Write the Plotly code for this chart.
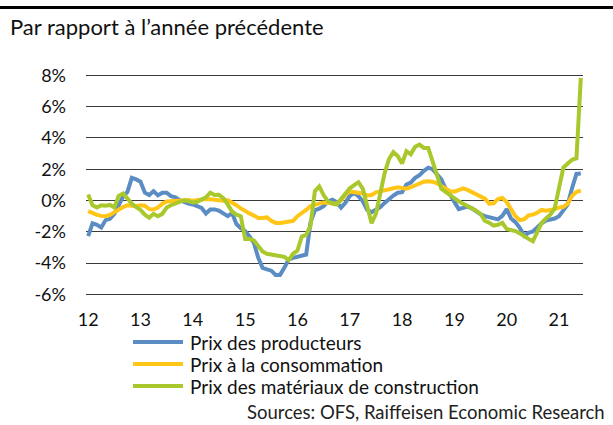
import plotly.graph_objects as go

# ---------------- data ----------------
year_labels = ["12", "13", "14", "15", "16", "17", "18", "19", "20", "21"]
months = [f"{m:02d}.{2012 + y}" for y in range(10) for m in range(1, 13)][:114]

series_names = ["Prix des producteurs", "Prix à la consommation",
                "Prix des matériaux de construction"]

producteurs = [
    -2.28, -1.45, -1.55, -1.72, -1.25, -1.17, -0.85, -0.25, 0.25, 0.55,
    1.45, 1.35, 1.20, 0.50, 0.35, 0.60, 0.33, 0.50, 0.50, 0.28,
    0.20, 0.02, -0.12, -0.20, -0.25, -0.38, -0.47, -0.83, -0.57, -0.57,
    -0.65, -0.82, -1.00, -0.80, -1.50, -1.77, -1.95, -2.30, -2.70, -3.65,
    -4.30, -4.40, -4.48, -4.75, -4.75, -4.30, -3.75, -3.66, -3.60, -3.50,
    -3.45, -1.40, -0.62, -0.52, -0.36, -0.06, 0.05, -0.10, -0.45, -0.15,
    0.30, 0.47, 0.28, -0.05, -0.60, -0.74, -0.60, -0.42, -0.15, 0.10,
    0.32, 0.50, 0.53, 1.02, 1.15, 1.45, 1.62, 1.90, 2.10, 2.00,
    1.66, 1.36, 0.75, 0.38, -0.10, -0.55, -0.47, -0.38, -0.50, -0.70,
    -0.88, -1.00, -1.08, -1.17, -1.20, -0.98, -0.55, -1.15, -1.38, -1.74,
    -2.25, -2.06, -1.98, -1.72, -1.45, -1.28, -1.20, -1.15, -1.00, -0.60,
    -0.25, 0.80, 1.70, 1.72,
]

consommation = [
    -0.68, -0.83, -0.92, -0.98, -1.00, -0.92, -0.75, -0.55, -0.42, -0.30,
    -0.33, -0.36, -0.30, -0.33, -0.55, -0.57, -0.45, -0.20, -0.06, -0.04,
    -0.04, 0.00, 0.06, 0.04, -0.02, 0.04, 0.06, 0.10, 0.08, 0.06,
    0.03, -0.02, 0.03, -0.10, -0.30, -0.50, -0.68, -0.82, -0.95, -1.12,
    -1.12, -1.08, -1.30, -1.43, -1.43, -1.38, -1.37, -1.30, -1.00, -0.81,
    -0.60, -0.35, -0.30, -0.20, -0.12, -0.14, -0.18, -0.20, 0.00, 0.35,
    0.58, 0.55, 0.50, 0.45, 0.33, 0.35, 0.52, 0.60, 0.65, 0.70,
    0.78, 0.84, 0.78, 0.76, 0.85, 0.95, 1.10, 1.20, 1.23, 1.20,
    1.10, 0.92, 0.75, 0.60, 0.57, 0.70, 0.78, 0.68, 0.55, 0.40,
    0.30, 0.12, -0.20, -0.18, 0.10, 0.17, -0.10, -0.60, -1.00, -1.25,
    -1.20, -0.95, -0.90, -0.78, -0.60, -0.65, -0.62, -0.55, -0.45, -0.40,
    -0.20, 0.30, 0.55, 0.64,
]

materiaux = [
    0.38, -0.30, -0.45, -0.30, -0.33, -0.28, -0.45, 0.30, 0.45, 0.10,
    -0.20, -0.42, -0.60, -0.90, -1.10, -0.85, -1.00, -0.85, -0.45, -0.30,
    -0.17, -0.08, 0.02, -0.04, -0.12, -0.08, 0.04, 0.20, 0.50, 0.35,
    0.36, 0.15, -0.25, -0.70, -0.90, -1.00, -2.45, -2.45, -2.55, -2.90,
    -3.25, -3.40, -3.45, -3.50, -3.51, -3.60, -3.80, -3.40, -3.20, -2.30,
    -2.20, -1.60, 0.60, 0.90, 0.35, -0.05, -0.20, -0.26, 0.10, 0.40,
    0.78, 0.98, 1.17, 0.75, -0.45, -1.45, -0.85, 0.55, 1.75, 2.65,
    3.10, 2.85, 2.36, 3.15, 2.95, 3.43, 3.57, 3.36, 3.36, 2.50,
    1.55, 0.75, 0.55, 0.35, 0.12, -0.05, -0.20, -0.35, -0.47, -0.65,
    -0.85, -1.30, -1.42, -1.60, -1.55, -1.42, -1.82, -1.87, -1.95, -2.10,
    -2.30, -2.45, -2.60, -1.95, -1.45, -1.15, -0.90, -0.50, 0.80, 2.10,
    2.36, 2.60, 2.70, 7.83,
]

y_ticks = [-6, -4, -2, 0, 2, 4, 6, 8]
colors = ["#5B8CC3", "#FFC617", "#A9C82C"]

# ---------------- figure ----------------
W, H = 613, 425
ML, MR, MT, MB = 86, 30, 69, 118
ymin, ymax = -6.8, 8.4
pw, ph = W - ML - MR, H - MT - MB


def px_x(p):  # page pixel -> paper x
    return (p - ML) / pw


def px_y(p):  # page pixel -> paper y
    return ((H - MB) - p) / ph


x = list(range(len(months)))
fig = go.Figure()
for name, vals, col in zip(series_names, [producteurs, consommation, materiaux], colors):
    fig.add_trace(go.Scatter(
        x=x, y=vals, mode="lines", name=name, text=months, showlegend=False,
        line=dict(color=col, width=4),
        hovertemplate="%{text}: %{y:.1f}%<extra>" + name + "</extra>",
    ))

# legend (swatch + label per series)
shapes = [dict(type="line", xref="paper", yref="paper", x0=px_x(0), x1=px_x(W),
               y0=px_y(7.5), y1=px_y(7.5), layer="above",
               line=dict(color="black", width=3))]
annotations = []
for i, (name, col) in enumerate(zip(series_names, colors)):
    yy = px_y(342 + 22 * i)
    shapes.append(dict(type="line", xref="paper", yref="paper", x0=px_x(133), x1=px_x(183),
                       y0=yy, y1=yy, layer="above", line=dict(color=col, width=4)))
    annotations.append(dict(text=name, xref="paper", yref="paper", x=px_x(188), y=yy,
                            xanchor="left", yanchor="middle", showarrow=False,
                            font=dict(size=19, color="#111111")))
annotations.append(dict(text="Sources: OFS, Raiffeisen Economic Research", xref="paper",
                        yref="paper", x=px_x(607), xanchor="right", y=px_y(412),
                        yanchor="middle", showarrow=False,
                        font=dict(size=18.5, color="#222222")))

xr = [-0.5, len(months) - 0.5]
fig.update_layout(
    width=W, height=H,
    margin=dict(l=ML, r=MR, t=MT, b=MB, autoexpand=False),
    paper_bgcolor="white", plot_bgcolor="white",
    font=dict(family="Lato", size=18, color="#111111"),
    title=dict(text="Par rapport à l’année précédente", xref="container", x=10 / W,
               xanchor="left", yref="container", y=1 - 27 / H, yanchor="middle",
               font=dict(size=22, color="#111111")),
    xaxis=dict(range=xr, tickvals=[12 * i for i in range(len(year_labels))],
               ticktext=year_labels, showgrid=False, zeroline=False, showline=False,
               ticks="", tickfont=dict(size=18)),
    xaxis2=dict(range=xr, overlaying="x", anchor="free",
                position=(0 - ymin) / (ymax - ymin),
                tickvals=[12 * i - 0.5 for i in range(len(year_labels))],
                ticks="outside", ticklen=6, tickwidth=1.5, tickcolor="#333333",
                showticklabels=False, showgrid=False, zeroline=False, showline=False,
                layer="below traces"),
    yaxis=dict(range=[ymin, ymax], tickvals=y_ticks, ticktext=[f"{v}%" for v in y_ticks],
               showgrid=True, gridcolor="#3a3a3a", gridwidth=1.3, zeroline=False,
               showline=False, ticks="", ticklabelstandoff=19, tickfont=dict(size=18)),
    annotations=annotations,
    shapes=shapes,
)

fig.write_html("out.html", config={"displayModeBar": False},
               post_script="document.body.style.margin='0px';")
